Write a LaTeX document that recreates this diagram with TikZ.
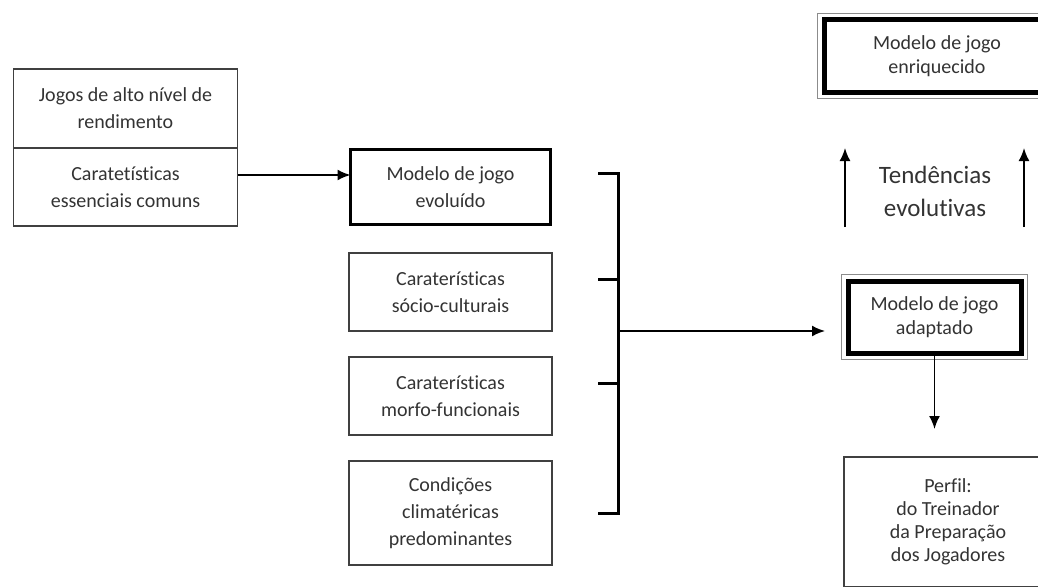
\documentclass[tikz,border=0pt]{standalone}
\usepackage{fontspec}
\setmainfont{Carlito}[Ligatures=NoCommon]
\usetikzlibrary{arrows.meta,positioning,calc}

\begin{document}
\begin{tikzpicture}[x=1pt, y=-1pt,
    box/.style={rectangle, draw=black!75, line width=1.6pt, outer sep=0pt, inner sep=0pt, minimum width=203pt, minimum height=78pt, align=center, text=black!80, font=\fontsize{20}{27}\selectfont},
    boldbox/.style={box, draw=black, line width=3pt, minimum width=200pt, minimum height=75pt},
    framebox/.style={box, fill=white, draw=black, line width=5pt, preaction={draw=black!45, line width=14pt}, preaction={draw=white, line width=12pt}, font=\fontsize{20}{24}\selectfont},
    arrow/.style={-{Latex[length=13pt,width=11pt]}, line width=1.8pt},
    bracket/.style={line width=3pt}
]
\clip (0,0) rectangle (1038,586);

% left column
\node[box, minimum width=224pt, minimum height=79pt] (jogos) at (125.5,108.5) {Jogos de alto nível de\\rendimento};
\node[box, minimum width=224pt, below=0pt of jogos] (carac) {Caratetísticas\\essenciais comuns};

% middle column
\node[boldbox] (evol) at (450.5,187) {Modelo de jogo\\evoluído};
\node[box] (socio) at (450.5,292) {Caraterísticas\\sócio-culturais};
\node[box] (morfo) at (450.5,396) {Caraterísticas\\morfo-funcionais};
\node[box, minimum height=104pt] (clima) at (450.5,513) {Condições\\climatéricas\\predominantes};

% right column
\node[framebox, minimum width=226pt, minimum height=72pt] (enriq) at (937,56) {Modelo de jogo\\enriquecido};
\node[text=black!80, align=center, font=\fontsize{25}{33}\selectfont] (tend) at (935,191) {Tendências\\evolutivas};
\node[framebox, minimum width=173pt, minimum height=72pt] (adapt) at (934.5,317) {Modelo de jogo\\adaptado};
\node[box, minimum width=208pt, minimum height=130pt, font=\fontsize{20}{23}\selectfont] (perfil) at (948,522) {Perfil:\\do Treinador\\da Preparação\\dos Jogadores};

\coordinate (bk) at (618,331);
\coordinate (tendL) at (845,227);
\coordinate (tendR) at (1024,227);

\draw[arrow] ([yshift=12pt]carac.east) -- ([yshift=12pt]evol.west);
\draw[bracket] ([xshift=47.5pt,yshift=14pt]evol.east) -| (bk) |- ([xshift=46pt]clima.east);
\draw[bracket] ([xshift=46pt,yshift=13pt]socio.east) -- ++(20,0);
\draw[bracket] ([xshift=46pt,yshift=13pt]morfo.east) -- ++(20,0);
\draw[arrow, shorten >=23pt] (bk) -- (bk -| adapt.west);
\draw[arrow, shorten >=28pt] (adapt.south) -- (adapt.south |- perfil.north);
\draw[arrow] (tendL) -- ++(0,-79);
\draw[arrow] (tendR) -- ++(0,-79);

\end{tikzpicture}
\end{document}
